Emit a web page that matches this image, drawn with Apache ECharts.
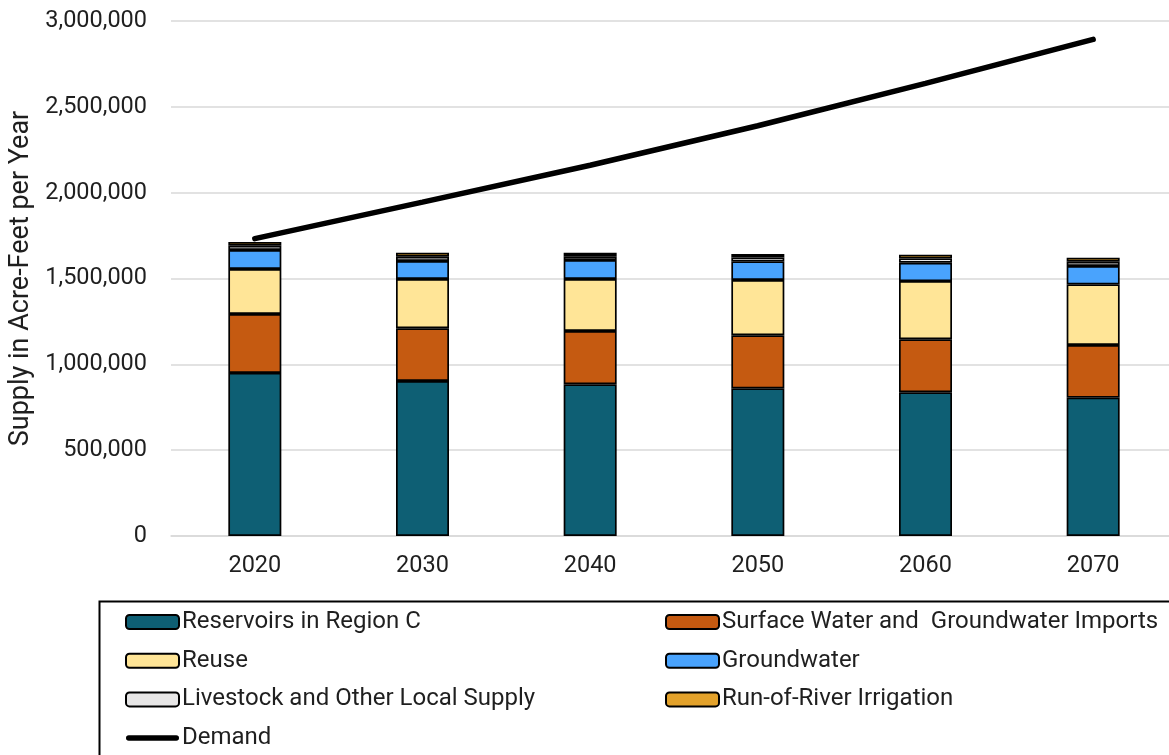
<!DOCTYPE html>
<html>
<head>
<meta charset="utf-8">
<script src="https://cdn.jsdelivr.net/npm/echarts@6/dist/echarts.min.js"></script>
<style>
html,body{margin:0;padding:0;background:#fff;overflow:hidden;}
#chart{width:1169px;height:755px;}
</style>
</head>
<body>
<div id="chart"></div>
<script>
const years = ['2020','2030','2040','2050','2060','2070'];
const reservoirs = [950000, 903000, 884000, 860000, 837000, 806000];
const imports = [343000, 307000, 310000, 309000, 309000, 307000];
const reuse = [262000, 287000, 303000, 322000, 339000, 353000];
const groundwater = [111000, 105000, 111000, 109000, 107000, 107000];
const livestock = [25000, 25000, 22000, 23000, 25000, 25000];
const runOfRiver = [22000, 23000, 20000, 20000, 22000, 23000];
const demand = [1732000, 1945000, 2160000, 2390000, 2637000, 2893000];
const yTicks = [0, 500000, 1000000, 1500000, 2000000, 2500000, 3000000];

const names = {
  res: 'Reservoirs in Region C',
  imp: 'Surface Water and  Groundwater Imports',
  reuse: 'Reuse',
  gw: 'Groundwater',
  live: 'Livestock and Other Local Supply',
  ror: 'Run-of-River Irrigation',
  dem: 'Demand'
};

const chart = echarts.init(document.getElementById('chart'));
const font = 'Roboto, "Liberation Sans", sans-serif';
const txt = '#1f1f1f';

function barSeries(name, data, color) {
  return {
    name: name, type: 'bar', stack: 'supply', data: data, barWidth: 53,
    itemStyle: { color: color, borderColor: '#000', borderWidth: 1.7 },
    emphasis: { disabled: true }
  };
}

const legendCommon = {
  orient: 'vertical', itemWidth: 53, itemHeight: 14, itemGap: 14.7,
  textStyle: { fontFamily: font, fontSize: 24, color: txt, lineHeight: 24, padding: [0,0,0,-2] },
  selectedMode: false, padding: 0
};

const demandIcon = 'path://M2.75,0 L50.25,0 A2.75,2.75 0 0 1 50.25,5.5 L2.75,5.5 A2.75,2.75 0 0 1 2.75,0 Z';

chart.setOption({
  animation: false,
  backgroundColor: '#fff',
  grid: { left: 171, top: 21, width: 1006, height: 515, containLabel: false, outerBoundsMode: 'none' },
  xAxis: {
    type: 'category', data: years,
    axisLine: { lineStyle: { color: '#d9d9d9', width: 1.5 } },
    axisTick: { show: false },
    axisLabel: { fontFamily: font, fontSize: 23.5, color: txt, margin: 18 }
  },
  yAxis: {
    type: 'value', min: yTicks[0], max: yTicks[yTicks.length-1], interval: yTicks[1]-yTicks[0],
    name: 'Supply in Acre-Feet per Year', nameLocation: 'middle', nameGap: 135, nameRotate: 90,
    nameTextStyle: { fontFamily: font, fontSize: 27, color: txt },
    axisLine: { show: false }, axisTick: { show: false },
    splitLine: { lineStyle: { color: '#d9d9d9', width: 1.5 } },
    axisLabel: {
      fontFamily: font, fontSize: 23.5, color: txt, margin: 24,
      formatter: v => v.toLocaleString('en-US')
    }
  },
  legend: [
    Object.assign({}, legendCommon, { left: 125, top: 610,
      data: [names.res, names.reuse, names.live, { name: names.dem, icon: demandIcon }] }),
    Object.assign({}, legendCommon, { left: 665, top: 610, data: [names.imp, names.gw, names.ror] })
  ],
  graphic: [{
    type: 'rect', left: 97, top: 599, z: -1,
    shape: { width: 1100, height: 200 },
    style: { fill: 'none', stroke: '#000', lineWidth: 2 }
  }],
  series: [
    barSeries(names.res, reservoirs, '#0e5f74'),
    barSeries(names.imp, imports, '#c55a11'),
    barSeries(names.reuse, reuse, '#ffe597'),
    barSeries(names.gw, groundwater, '#49a3fd'),
    barSeries(names.live, livestock, '#e7e6e6'),
    barSeries(names.ror, runOfRiver, '#e3a22b'),
    {
      name: names.dem, type: 'line', data: demand, symbol: 'none', z: 10,
      lineStyle: { color: '#000', width: 5.5, cap: 'round' },
      itemStyle: { color: '#000' },
      emphasis: { disabled: true }
    }
  ]
});
</script>
</body>
</html>
